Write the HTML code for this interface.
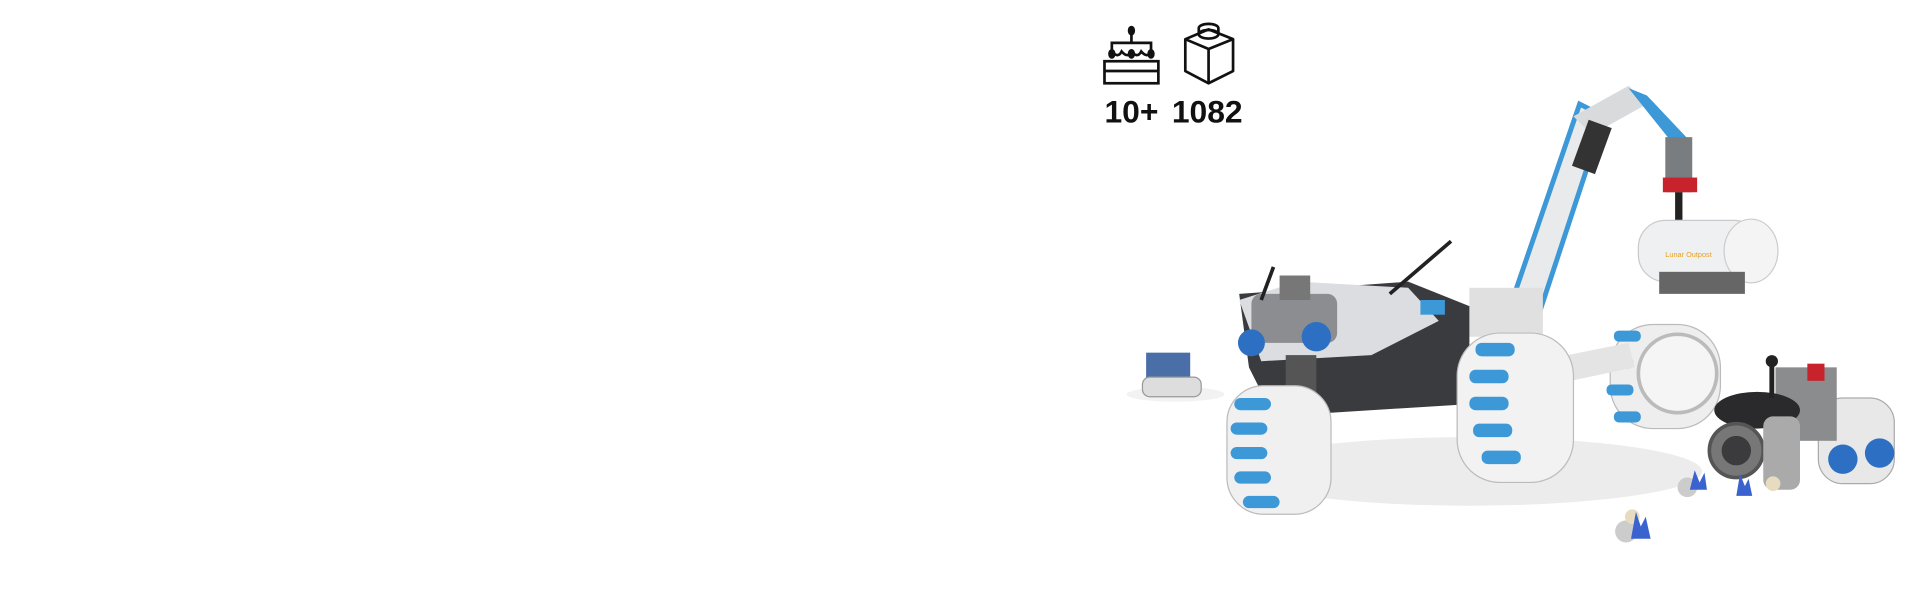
<!DOCTYPE html>
<html><head><meta charset="utf-8"><style>
html,body{margin:0;padding:0;background:#fff;width:1920px;height:600px;overflow:hidden}
svg{display:block}
</style></head><body>
<svg width="1920" height="600" viewBox="0 0 1568 490" xmlns="http://www.w3.org/2000/svg">
<rect width="1568" height="490" fill="#fff"/>
<g fill="none" stroke="#111" stroke-width="2.2">
<rect x="902" y="50" width="44" height="18"/>
<line x1="902" y1="58" x2="946" y2="58"/>
<polyline points="908,42 908,35 940,35 940,42"/>
<path d="M908,42 q5,6 8,0 q5,6 8,0 q5,6 8,0 q5,6 8,0"/>
<line x1="924" y1="27" x2="924" y2="35"/>
</g>
<g fill="#111"><ellipse cx="924" cy="25" rx="3" ry="4"/><ellipse cx="908" cy="44" rx="3" ry="4"/><ellipse cx="924" cy="44" rx="3" ry="4"/><ellipse cx="940" cy="44" rx="3" ry="4"/></g>
<g fill="none" stroke="#111" stroke-width="2.2" stroke-linejoin="round">
<path d="M968,32 L987,24 L1007,32 L1007,58 L987,68 L968,58 Z"/>
<path d="M968,32 L987,40 L1007,32 M987,40 L987,68"/>
<ellipse cx="987" cy="28" rx="8" ry="3.5"/>
<path d="M979,28 v-5 a8,3.5 0 0 1 16,0 v5"/>
</g>
<text x="902" y="100" font-family="Liberation Sans, sans-serif" font-weight="bold" font-size="26" fill="#111">10+</text>
<text x="957" y="100" font-family="Liberation Sans, sans-serif" font-weight="bold" font-size="26" fill="#111">1082</text>
<ellipse cx="1200" cy="385" rx="190" ry="28" fill="#ececec"/>
<ellipse cx="960" cy="322" rx="40" ry="6" fill="#f2f2f2"/>
<polygon points="1230,260 1255,262 1310,95 1290,85" fill="#e8eaec" stroke="#3c98d6" stroke-width="4"/>
<polygon points="1285,95 1330,70 1345,85 1300,110" fill="#d8dadc"/>
<rect x="1290" y="100" width="20" height="40" fill="#333" transform="rotate(20 1300 120)"/>
<polygon points="1330,72 1345,78 1380,115 1370,122" fill="#3c98d6"/>
<rect x="1360" y="112" width="22" height="45" fill="#7a7d80"/>
<rect x="1358" y="145" width="28" height="12" fill="#c8232c"/>
<rect x="1368" y="157" width="6" height="25" fill="#222"/>
<rect x="1338" y="180" width="100" height="50" rx="22" fill="#eef0f2" stroke="#c8cacc"/>
<ellipse cx="1430" cy="205" rx="22" ry="26" fill="#f4f4f4" stroke="#ccc"/>
<rect x="1355" y="222" width="70" height="18" fill="#666"/>
<text x="1360" y="210" font-family="Liberation Sans, sans-serif" font-size="6" fill="#e8a020">Lunar Outpost</text>
<rect x="1200" y="235" width="60" height="40" fill="#e0e0e0"/>
<polygon points="1012,240 1150,230 1200,250 1200,330 1040,340 1020,300" fill="#3a3b3e"/>
<polygon points="1012,245 1060,230 1150,235 1175,262 1120,290 1030,295" fill="#dcdde0"/>
<rect x="1022" y="240" width="70" height="40" rx="8" fill="#8b8d90"/>
<circle cx="1022" cy="280" r="11" fill="#2d6fc2"/>
<circle cx="1075" cy="275" r="12" fill="#2d6fc2"/>
<rect x="1045" y="225" width="25" height="20" fill="#777"/>
<line x1="1030" y1="245" x2="1040" y2="218" stroke="#222" stroke-width="3"/>
<line x1="1135" y1="240" x2="1185" y2="197" stroke="#222" stroke-width="3"/>
<rect x="1160" y="245" width="20" height="12" fill="#3c98d6"/>
<rect x="1050" y="290" width="25" height="90" fill="#555"/>
<g>
<rect x="1002" y="315" width="85" height="105" rx="30" fill="#f0f0f0" stroke="#bbb"/>
<g fill="#3c98d6"><rect x="1008" y="325" width="30" height="10" rx="5"/><rect x="1005" y="345" width="30" height="10" rx="5"/><rect x="1005" y="365" width="30" height="10" rx="5"/><rect x="1008" y="385" width="30" height="10" rx="5"/><rect x="1015" y="405" width="30" height="10" rx="5"/></g>
</g>
<g>
<rect x="1315" y="265" width="90" height="85" rx="35" fill="#eeeeee" stroke="#bbb"/>
<circle cx="1370" cy="305" r="32" fill="#f5f5f5" stroke="#bbb" stroke-width="3"/>
<g fill="#3c98d6"><rect x="1318" y="270" width="22" height="9" rx="4"/><rect x="1312" y="292" width="22" height="9" rx="4"/><rect x="1312" y="314" width="22" height="9" rx="4"/><rect x="1318" y="336" width="22" height="9" rx="4"/></g>
</g>
<polygon points="1230,300 1330,280 1335,300 1240,320" fill="#e4e4e4"/>
<g>
<rect x="1190" y="272" width="95" height="122" rx="35" fill="#f2f2f2" stroke="#bbb"/>
<g fill="#3c98d6"><rect x="1205" y="280" width="32" height="11" rx="5"/><rect x="1200" y="302" width="32" height="11" rx="5"/><rect x="1200" y="324" width="32" height="11" rx="5"/><rect x="1203" y="346" width="32" height="11" rx="5"/><rect x="1210" y="368" width="32" height="11" rx="5"/></g>
</g>
<rect x="936" y="288" width="36" height="22" fill="#4a6fa8"/>
<rect x="933" y="308" width="48" height="16" rx="6" fill="#ddd" stroke="#999"/>
<rect x="1485" y="325" width="62" height="70" rx="20" fill="#e8e8e8" stroke="#aaa"/>
<circle cx="1505" cy="375" r="12" fill="#2d6fc2"/>
<circle cx="1535" cy="370" r="12" fill="#2d6fc2"/>
<rect x="1450" y="300" width="50" height="60" fill="#8a8c8e"/>
<rect x="1476" y="297" width="14" height="14" fill="#c8232c"/>
<ellipse cx="1435" cy="335" rx="35" ry="15" fill="#2a2a2c"/>
<line x1="1447" y1="297" x2="1447" y2="325" stroke="#222" stroke-width="4"/>
<circle cx="1447" cy="295" r="5" fill="#222"/>
<circle cx="1418" cy="368" r="22" fill="#777" stroke="#555" stroke-width="3"/>
<circle cx="1418" cy="368" r="12" fill="#3b3b3d"/>
<rect x="1440" y="340" width="30" height="60" rx="8" fill="#aaa"/>
<circle cx="1378" cy="398" r="8" fill="#ccc"/><path d="M1380,400 l4,-16 l4,10 l4,-8 l2,14z" fill="#3b63d0"/>
<path d="M1418,405 l3,-18 l4,10 l3,-6 l3,14z" fill="#3b63d0"/><circle cx="1448" cy="395" r="6" fill="#e8dcc0"/>
<circle cx="1328" cy="434" r="9" fill="#ccc"/><circle cx="1333" cy="422" r="6" fill="#e8dcc0"/>
<path d="M1332,440 l4,-22 l4,12 l4,-8 l4,18z" fill="#3b63d0"/>
</svg>
</body></html>
